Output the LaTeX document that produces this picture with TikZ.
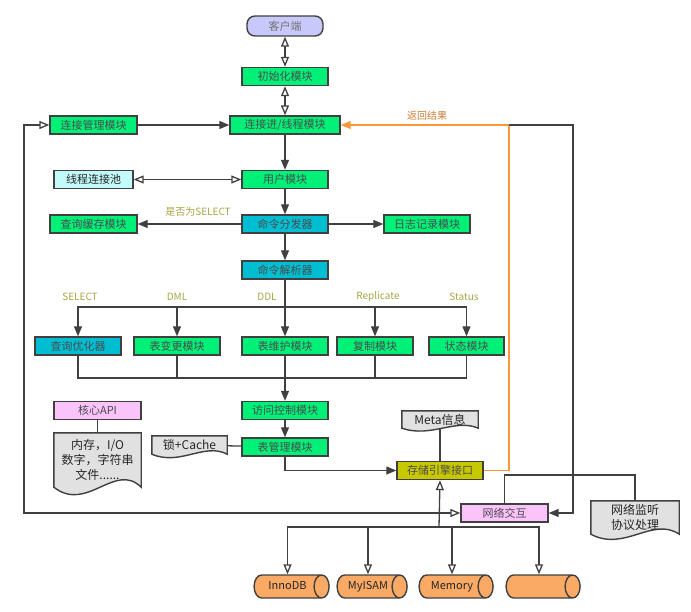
\documentclass[tikz,border=0pt]{standalone}
\usepackage{fontspec}
\setmainfont{Noto Sans CJK SC}
\usetikzlibrary{arrows.meta,calc,shapes.geometric}
\pgfdeclarelayer{paper}
\pgfsetlayers{paper,main}
\definecolor{modgreen}{RGB}{0,240,120}
\definecolor{modteal}{RGB}{0,190,210}
\definecolor{modolive}{RGB}{200,200,0}
\definecolor{modpink}{RGB}{250,195,250}
\definecolor{modcyan}{RGB}{195,250,250}
\definecolor{modlav}{RGB}{200,200,250}
\definecolor{docgray}{RGB}{225,225,225}
\definecolor{dbfill}{RGB}{250,170,100}
\definecolor{backline}{RGB}{250,150,60}
\definecolor{backtext}{RGB}{205,125,55}
\definecolor{branchtext}{RGB}{165,165,70}
\tikzset{
	module/.style={draw=black!75, line width=1.4pt, fill=modgreen, minimum width=86pt, minimum height=18pt, inner sep=0pt, text=black!70, font=\fontsize{11}{12}\selectfont},
	paper/.style={draw=black!75, line width=1.4pt, fill=docgray},
	papertext/.style={inner sep=0pt, align=center, text=black!85, font=\fontsize{12}{15}\selectfont},
	engine/.style={cylinder, shape border rotate=0, shape aspect=1.5, draw=black!75, line width=1.4pt, fill=dbfill, minimum height=75pt, minimum width=23pt, inner sep=0pt, text height=8pt, text depth=2pt, text=black!85, font=\fontsize{11}{12}\selectfont},
	branch/.style={inner sep=0pt, text=branchtext, font=\fontsize{10}{11}\selectfont},
	wire/.style={draw=black!75, line width=1.3pt},
	flow/.style={wire, -{Triangle[length=10pt,width=8pt]}},
	openflow/.style={wire, -{Triangle[open,length=10pt,width=8pt,fill=white]}},
	twoway/.style={wire, {Triangle[open,length=10pt,width=8pt,fill=white]}-{Triangle[open,length=10pt,width=8pt,fill=white]}}
}
\def\paperdoc(#1)(#2){%
	\begin{pgfonlayer}{paper}
	\draw[paper] (#1.north west) -- (#1.north east) -- (#1.south east)
		.. controls ($(#1.south east)!0.3!(#1.south west)+(0,-#2)$) and ($(#1.south east)!0.62!(#1.south west)+(0,#2)$) .. (#1.south west) -- cycle;
	\end{pgfonlayer}}

\begin{document}
\begin{tikzpicture}[x=1pt,y=-1pt]
			%%%%% START %%%%%
			\useasboundingbox (0,0) rectangle (691,612);
			
			\node[module, fill=modlav, rounded corners=8pt, minimum width=76pt, minimum height=20pt, text=black!55] (client) at (285,26) {客户端};
			\node[module] (init) at (285,76.5) {初始化模块};
			\node[module, minimum width=87pt] (connmgr) at (93.5,125) {连接管理模块};
			\node[module, minimum width=110pt] (connthr) at (285,125) {连接进/线程模块};
			\node[module] (user) at (285,179.5) {用户模块};
			\node[module, fill=modcyan, minimum width=79pt, text=black!85] (pool) at (93.5,179.5) {线程连接池};
			\node[module, fill=modteal] (dispatch) at (285,224) {命令分发器};
			\node[module, minimum width=87pt] (qcache) at (93.5,224) {查询缓存模块};
			\node[module] (log) at (427,224) {日志记录模块};
			\node[module, fill=modteal] (parser) at (285,270) {命令解析器};
			
			\node[module, fill=modteal] (optimizer) at (78,346) {查询优化器};
			\node[module] (tblchg) at (177,346) {表变更模块};
			\node[module] (tblmnt) at (285,346) {表维护模块};
			\node[module, minimum width=76pt] (repl) at (375,346) {复制模块};
			\node[module, minimum width=75pt] (status) at (466.5,346) {状态模块};
			
			\node[module] (access) at (285,410.5) {访问控制模块};
			\node[module] (tblmgr) at (285,447) {表管理模块};
			\node[module, fill=modpink, minimum width=87pt] (coreapi) at (97.5,410.5) {核心API};
			\node[module, fill=modolive] (storage) at (440,470.5) {存储引擎接口};
			\node[module, fill=modpink, minimum width=87pt] (net) at (504.5,513) {网络交互};
			
			% documents
			\node[papertext, minimum width=87pt, minimum height=54pt] (memdoc) at (97.5,460) {内存，I/O\\数字，字符串\\文件......};
			\node[papertext, minimum width=75pt, minimum height=18pt] (lockdoc) at (189.5,445) {锁+Cache};
			\node[papertext, minimum width=76pt, minimum height=17pt] (metadoc) at (440,419.5) {Meta信息};
			\node[papertext, minimum width=88pt, minimum height=33pt] (netdoc) at (635,517.5) {网络监听\\协议处理};
			\paperdoc(memdoc)(26)
			\paperdoc(lockdoc)(12)
			\paperdoc(metadoc)(10)
			\paperdoc(netdoc)(18)
			
			% engines
			\node[engine] (innodb) at (287.5,586.5) {InnoDB};
			\node[engine, minimum height=70pt] (myisam) at (368,586.5) {MyISAM};
			\node[engine, minimum height=74pt] (memory) at (452,586.5) {Memory};
			\node[engine, minimum height=74pt] (other) at (539,586.5) {};
			
			% labels
			\node[branch] (lselect) at (198,212) {是否为SELECT};
			\node[branch] (bselect) at (80,297) {SELECT};
			\node[branch] (bdml) at (177,297) {DML};
			\node[branch] (bddl) at (267,297) {DDL};
			\node[branch] (brepl) at (378,297) {Replicate};
			\node[branch] (bstatus) at (464,297) {Status};
			\node[branch, text=backtext] (lback) at (427,116) {返回结果};
			
			\coordinate (pbus) at (285,307);
			\coordinate (cbus) at (285,378);
			\coordinate (ebus) at (439,527);
			\coordinate (ocorner) at (509,125);
			\coordinate (rcorner) at (573,125);
			\coordinate (lcorner) at (24,125);
			\coordinate (ncorner) at (635,475);
			
			\draw[twoway] (client) -- (init);
			\draw[twoway] (init) -- (connthr);
			\draw[flow] (connmgr) -- (connthr);
			\draw[flow] (connthr) -- (user);
			\draw[twoway] (pool) -- (user);
			\draw[flow] (user) -- (dispatch);
			\draw[flow] (dispatch) -- (qcache);
			\draw[flow] (dispatch) -- (log);
			\draw[flow] (dispatch) -- (parser);
			
			\draw[flow] (parser) -- (tblmnt);
			\draw[flow] (pbus) -| (optimizer.north);
			\draw[flow] (pbus) -| (tblchg.north);
			\draw[flow] (pbus) -| (repl.north);
			\draw[flow] (pbus) -| (status.north);
			
			\draw[wire] (optimizer.south) |- (cbus);
			\draw[wire] (tblchg.south) |- (cbus);
			\draw[wire] (repl.south) |- (cbus);
			\draw[wire] (status.south) |- (cbus);
			\draw[flow] (tblmnt) -- (access);
			\draw[flow] (access) -- (tblmgr);
			
			\draw[wire] (coreapi) -- (memdoc);
			\draw[wire] (lockdoc) -- (tblmgr);
			\draw[wire] (metadoc) -- (storage);
			\draw[flow] (tblmgr.south) |- (storage.west);
			
			\draw[line width=1.3pt, draw=backline, -{Triangle[length=10pt,width=8pt]}] (storage.east) -| (ocorner) -- (connthr.east);
			\draw[flow] (ocorner) -- (rcorner) |- (net.east);
			\draw[twoway] (connmgr.west) -- (lcorner) |- (net.west);
			\draw[wire] (net.north) |- (ncorner) -- (netdoc.north);
			
			\draw[openflow] (ebus) -- (storage.south);
			\draw[openflow] (ebus) -| (innodb.north);
			\draw[openflow] (ebus) -| (myisam.north);
			\draw[openflow] (ebus) -| (memory.north);
			\draw[openflow] (ebus) -| (other.north);
			
			%%%%% END %%%%%
\end{tikzpicture}
\end{document}
